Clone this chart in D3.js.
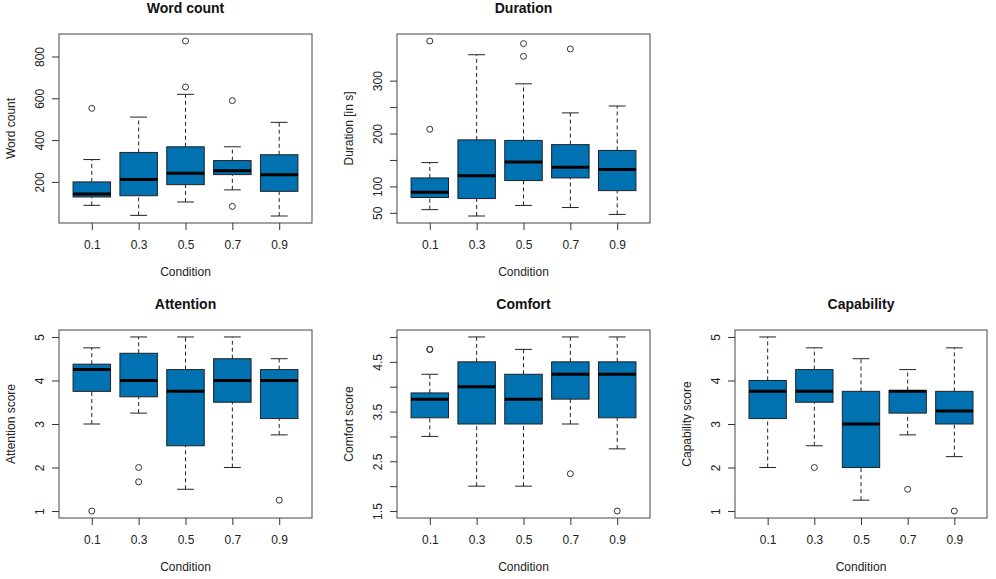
<!DOCTYPE html>
<html>
<head>
<meta charset="utf-8">
<script src="https://cdn.jsdelivr.net/npm/d3@7"></script>
<style>
  html, body { margin: 0; padding: 0; background: #fff; }
  svg { display: block; font-family: "Liberation Sans", Arial, Helvetica, sans-serif; }
</style>
</head>
<body>
<svg id="chart" width="996" height="579"></svg>
<script>
// ---------- DATA ----------
const categories = ["0.1", "0.3", "0.5", "0.7", "0.9"];

// each entry: [lowWhisker, Q1, median, Q3, highWhisker]
const wordCountStats = [
  [88, 128, 142, 200, 307],
  [40, 134, 211, 341, 510],
  [104, 187, 242, 368, 619],
  [162, 235, 254, 302, 368],
  [37, 155, 234, 330, 485]
];
const wordCountOutliers = [[552], [], [654, 874], [589, 83], []];
const wordCountTicks = [200, 400, 600, 800];
const wordCountTickLabels = ["200", "400", "600", "800"];

const durationStats = [
  [56, 79, 89, 116, 145],
  [44, 77, 120, 188, 349],
  [64, 111, 146, 187, 294],
  [60, 116, 136, 179, 239],
  [47, 92, 132, 168, 252]
];
const durationOutliers = [[208, 375], [], [346, 370], [360], []];
const durationTicks = [50, 100, 150, 200, 250, 300];
const durationTickLabels = ["50", "100", "", "200", "", "300"];

const attentionStats = [
  [3.0, 3.75, 4.25, 4.375, 4.75],
  [3.25, 3.625, 4.0, 4.625, 5.0],
  [1.5, 2.5, 3.75, 4.25, 5.0],
  [2.0, 3.5, 4.0, 4.5, 5.0],
  [2.75, 3.125, 4.0, 4.25, 4.5]
];
const attentionOutliers = [[1.0], [2.0, 1.67], [], [], [1.25]];
const attentionTicks = [1, 2, 3, 4, 5];
const attentionTickLabels = ["1", "2", "3", "4", "5"];

const comfortStats = [
  [3.0, 3.375, 3.75, 3.875, 4.25],
  [2.0, 3.25, 4.0, 4.5, 5.0],
  [2.0, 3.25, 3.75, 4.25, 4.75],
  [3.25, 3.75, 4.25, 4.5, 5.0],
  [2.75, 3.375, 4.25, 4.5, 5.0]
];
const comfortOutliers = [[4.75, 4.75], [], [], [2.25], [1.5]];
const comfortTicks = [1.5, 2, 2.5, 3, 3.5, 4, 4.5, 5];
const comfortTickLabels = ["1.5", "", "2.5", "", "3.5", "", "4.5", ""];

const capabilityStats = [
  [2.0, 3.125, 3.75, 4.0, 5.0],
  [2.5, 3.5, 3.75, 4.25, 4.75],
  [1.25, 2.0, 3.0, 3.75, 4.5],
  [2.75, 3.25, 3.75, 3.77, 4.25],
  [2.25, 3.0, 3.3, 3.75, 4.75]
];
const capabilityOutliers = [[], [2.0], [], [1.5], [1.0]];
const capabilityTicks = [1, 2, 3, 4, 5];
const capabilityTickLabels = ["1", "2", "3", "4", "5"];

const panelTitles = ["Word count", "Duration", "Attention", "Comfort", "Capability"];
const yAxisTitles = ["Word count", "Duration [in s]", "Attention score", "Comfort score", "Capability score"];
const xAxisTitle = "Condition";

// ---------- LAYOUT ----------
const frames = [
  { left: 59, top: 34, right: 312, bottom: 223 },
  { left: 397, top: 34, right: 650, bottom: 223 },
  { left: 59, top: 330, right: 312, bottom: 518 },
  { left: 397, top: 330, right: 650, bottom: 518 },
  { left: 735, top: 330, right: 987, bottom: 518 }
];

const panels = [
  { stats: wordCountStats, out: wordCountOutliers, ticks: wordCountTicks, labels: wordCountTickLabels },
  { stats: durationStats, out: durationOutliers, ticks: durationTicks, labels: durationTickLabels },
  { stats: attentionStats, out: attentionOutliers, ticks: attentionTicks, labels: attentionTickLabels },
  { stats: comfortStats, out: comfortOutliers, ticks: comfortTicks, labels: comfortTickLabels },
  { stats: capabilityStats, out: capabilityOutliers, ticks: capabilityTicks, labels: capabilityTickLabels }
];

const fillColor = "#0072B2";
const svg = d3.select("#chart");

panels.forEach((p, i) => {
  const f = frames[i];
  const all = p.stats.flat().concat(p.out.flat());
  const lo = d3.min(all), hi = d3.max(all);
  const pad = (hi - lo) * 0.04;
  const y = d3.scaleLinear().domain([lo - pad, hi + pad]).range([f.bottom, f.top]);
  const x = d3.scaleLinear().domain([0.3, categories.length + 0.7]).range([f.left, f.right]);
  const unit = x(2) - x(1);
  const bw = unit * 0.8;
  const cap = bw * 0.45;

  const g = svg.append("g");

  // boxes
  const box = g.selectAll("g.box").data(p.stats).enter().append("g").attr("class", "box");
  box.append("line")
    .attr("x1", (d, j) => x(j + 1)).attr("x2", (d, j) => x(j + 1))
    .attr("y1", d => y(d[3])).attr("y2", d => y(d[4]))
    .attr("stroke", "#222").attr("stroke-width", 1).attr("stroke-dasharray", "4,3");
  box.append("line")
    .attr("x1", (d, j) => x(j + 1)).attr("x2", (d, j) => x(j + 1))
    .attr("y1", d => y(d[0])).attr("y2", d => y(d[1]))
    .attr("stroke", "#222").attr("stroke-width", 1).attr("stroke-dasharray", "4,3");
  box.append("line")
    .attr("x1", (d, j) => x(j + 1) - cap / 2).attr("x2", (d, j) => x(j + 1) + cap / 2)
    .attr("y1", d => y(d[4])).attr("y2", d => y(d[4]))
    .attr("stroke", "#222").attr("stroke-width", 1);
  box.append("line")
    .attr("x1", (d, j) => x(j + 1) - cap / 2).attr("x2", (d, j) => x(j + 1) + cap / 2)
    .attr("y1", d => y(d[0])).attr("y2", d => y(d[0]))
    .attr("stroke", "#222").attr("stroke-width", 1);
  box.append("rect")
    .attr("x", (d, j) => x(j + 1) - bw / 2).attr("width", bw)
    .attr("y", d => y(d[3])).attr("height", d => y(d[1]) - y(d[3]))
    .attr("fill", fillColor).attr("stroke", "#222").attr("stroke-width", 1);
  box.append("line")
    .attr("x1", (d, j) => x(j + 1) - bw / 2).attr("x2", (d, j) => x(j + 1) + bw / 2)
    .attr("y1", d => y(d[2])).attr("y2", d => y(d[2]))
    .attr("stroke", "#000").attr("stroke-width", 3);

  // outliers
  p.out.forEach((vals, j) => {
    g.selectAll(null).data(vals).enter().append("circle")
      .attr("cx", x(j + 1)).attr("cy", v => y(v)).attr("r", 3)
      .attr("fill", "none").attr("stroke", "#333").attr("stroke-width", 1);
  });

  // frame
  g.append("rect")
    .attr("x", f.left).attr("y", f.top)
    .attr("width", f.right - f.left).attr("height", f.bottom - f.top)
    .attr("fill", "none").attr("stroke", "#444").attr("stroke-width", 1);

  // x axis
  const xAxis = d3.axisBottom(x).tickValues([1, 2, 3, 4, 5])
    .tickFormat((d) => categories[d - 1]).tickSize(7).tickPadding(5);
  const xg = g.append("g").attr("transform", `translate(0,${f.bottom})`).call(xAxis);
  xg.select(".domain").remove();
  xg.selectAll(".tick line").attr("stroke", "#333");
  xg.selectAll(".tick text").attr("font-size", 12).attr("fill", "#222")
    .attr("font-family", "Liberation Sans, Arial, sans-serif").attr("dy", null).attr("y", 26);

  // y axis
  const yAxis = d3.axisLeft(y).tickValues(p.ticks)
    .tickFormat((d, k) => p.labels[k]).tickSize(7);
  const yg = g.append("g").attr("transform", `translate(${f.left},0)`).call(yAxis);
  yg.select(".domain").remove();
  yg.selectAll(".tick line").attr("stroke", "#333");
  yg.selectAll(".tick text")
    .attr("font-size", 12).attr("fill", "#222")
    .attr("font-family", "Liberation Sans, Arial, sans-serif")
    .attr("x", null).attr("dy", null)
    .attr("text-anchor", "middle")
    .attr("transform", "translate(-15.5,0) rotate(-90)");

  // titles
  const cx = (f.left + f.right) / 2;
  g.append("text").attr("x", cx).attr("y", f.top - 21)
    .attr("text-anchor", "middle").attr("font-size", 14).attr("font-weight", "bold")
    .attr("fill", "#111").text(panelTitles[i]);
  g.append("text").attr("x", cx).attr("y", f.bottom + 53)
    .attr("text-anchor", "middle").attr("font-size", 12).attr("fill", "#222").text(xAxisTitle);
  const cy = (f.top + f.bottom) / 2;
  g.append("text")
    .attr("transform", `translate(${f.left - 44},${cy}) rotate(-90)`)
    .attr("text-anchor", "middle").attr("font-size", 12).attr("fill", "#222")
    .text(yAxisTitles[i]);
});
</script>
</body>
</html>
